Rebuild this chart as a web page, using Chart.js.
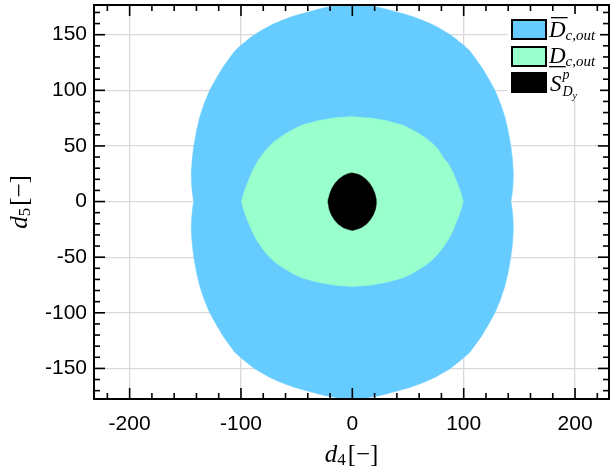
<!DOCTYPE html>
<html><head><meta charset="utf-8">
<script src="https://cdn.jsdelivr.net/npm/chart.js@4/dist/chart.umd.min.js"></script>
<style>html,body{margin:0;padding:0;background:#fff}</style>
</head><body>
<canvas id="c" width="611" height="470"></canvas>
<script>
// ---- data ----
const xTicks = [-200, -100, 0, 100, 200];
const yTicks = [-150, -100, -50, 0, 50, 100, 150];
const xMinor = [-220,-180,-160,-140,-120,-80,-60,-40,-20,20,40,60,80,120,140,160,180,220];
const yMinor = [-170,-160,-140,-130,-120,-110,-90,-80,-70,-60,-40,-30,-20,-10,10,20,30,40,60,70,80,90,110,120,130,140,160,170];

const seriesLabels = ['D c,out (upper)', 'D c,out (lower)', 'S p Dy'];

// outer region boundary (overline D_c,out)
const blueBoundary = [
  [0,179],[-12,176.7],[-24,174.5],[-34,172],[-45,169],[-55,166],[-63,163],[-70,160],[-76,157],[-88,150],
  [-97,143],[-105,136],[-111,128],[-116,121],[-122,111],[-128,100],[-133,88],[-137,76],[-140,63],
  [-142.3,50],[-143.8,38],[-144.6,25],[-144.2,14],[-143.4,6],[-142.5,0],
  [-143.4,-6],[-144.2,-14],[-144.6,-25],[-143.8,-38],[-142.3,-50],[-140,-63],[-137,-76],[-133,-88],
  [-128,-100],[-122,-111],[-116,-121],[-111,-128],[-105,-136],[-97,-143],[-88,-150],[-76,-157],
  [-70,-160],[-63,-163],[-55,-166],[-45,-169],[-34,-172],[-24,-174.5],[-12,-176.7],[0,-179],
  [12,-176.7],[24,-174.5],[34,-172],[45,-169],[55,-166],[63,-163],[70,-160],[76,-157],[88,-150],
  [97,-143],[105,-136],[111,-128],[116,-121],[122,-111],[128,-100],[133,-88],[137,-76],[140,-63],
  [142.3,-50],[143.8,-38],[144.6,-25],[144.2,-14],[143.4,-6],[142.5,0],
  [143.4,6],[144.2,14],[144.6,25],[143.8,38],[142.3,50],[140,63],[137,76],[133,88],[128,100],
  [122,111],[116,121],[111,128],[105,136],[97,143],[88,150],[76,157],[70,160],[63,163],
  [55,166],[45,169],[34,172],[24,174.5],[12,176.7]
];

// inner region boundary (underline D_c,out)
const greenBoundary = [
  [0,76.4],[-15,75.3],[-30,72.8],[-45,68.8],[-52,65.5],[-59,61.6],[-66,57],[-72,52.3],[-77,47],[-81,42],
  [-86,34.5],[-90,27],[-93,19.5],[-96,12],[-98,6],[-99.6,0],
  [-98,-6],[-96,-12],[-93,-19.5],[-90,-27],[-86,-34.5],[-81,-42],[-77,-47],[-72,-52.3],[-66,-57],[-59,-61.6],
  [-52,-65.5],[-45,-68.8],[-30,-72.8],[-15,-75.3],[0,-76.4],
  [15,-75.3],[30,-72.8],[45,-68.8],[52,-65.5],[59,-61.6],[66,-57],[72,-52.3],[77,-47],[81,-42],[86,-34.5],
  [90,-27],[93,-19.5],[96,-12],[98,-6],[99.6,0],
  [98,6],[96,12],[93,19.5],[90,27],[86,34.5],[82,39],[77,47],[72,52.3],[66,57],[59,61.6],[52,65.5],
  [45,68.8],[30,72.8],[15,75.3]
];

// S^p_{D_y}
const blackBoundary = [
  [0,26],[-4,25],[-8,23.2],[-12,20.3],[-15.5,16.5],[-18.3,12],[-20.3,7],[-21.5,2],[-21.6,-2],[-20.8,-7],
  [-18.8,-12],[-16,-16.5],[-12.5,-20.5],[-8,-23.5],[-4,-25],[0,-26],
  [4,-25],[8,-23.5],[12.5,-20.5],[16,-16.5],[18.8,-12],[20.8,-7],[21.6,-2],[21.5,2],[20.3,7],
  [18.3,12],[15.5,16.5],[12,20.3],[8,23.2],[4,25]
];

const colors = ['#66CCFF', '#99FFCC', '#000000'];

// ---- chart ----
const toPts = arr => arr.map(p => ({x: p[0], y: p[1]}));
const SERIF = '"Liberation Serif", "Times New Roman", serif';

function seq(ctx, x, y, parts, measureOnly) {
  let cx = x;
  for (const p of parts) {
    ctx.font = p.font;
    if (!measureOnly) ctx.fillText(p.t, cx + (p.dx || 0), y + (p.dy || 0));
    cx += ctx.measureText(p.t).width + (p.dx || 0) + (p.after || 0);
  }
  return cx - x;
}

const framePlugin = {
  id: 'frame',
  afterDatasetsDraw(chart) {
    const {ctx, chartArea: a, scales: {x, y}} = chart;
    ctx.save();
    ctx.strokeStyle = '#000';
    ctx.lineWidth = 1.6;
    const ln = (x1, y1, x2, y2) => { ctx.beginPath(); ctx.moveTo(x1, y1); ctx.lineTo(x2, y2); ctx.stroke(); };
    xTicks.forEach(v => { const p = x.getPixelForValue(v); ln(p, a.bottom, p, a.bottom - 11); ln(p, a.top, p, a.top + 11); });
    xMinor.forEach(v => { const p = x.getPixelForValue(v); ln(p, a.bottom, p, a.bottom - 6); ln(p, a.top, p, a.top + 6); });
    yTicks.forEach(v => { const p = y.getPixelForValue(v); ln(a.left, p, a.left + 11, p); ln(a.right, p, a.right - 11, p); });
    yMinor.forEach(v => { const p = y.getPixelForValue(v); ln(a.left, p, a.left + 6, p); ln(a.right, p, a.right - 6, p); });
    ctx.lineWidth = 2;
    ctx.strokeRect(a.left, a.top, a.right - a.left, a.bottom - a.top);
    ctx.restore();
  }
};

const legendPlugin = {
  id: 'mathLegend',
  afterDraw(chart) {
    const ctx = chart.ctx;
    ctx.save();
    ctx.fillStyle = '#fff';
    ctx.fillRect(508, 14, 92, 85);
    const rows = [20, 47, 73];
    rows.forEach((ry, i) => {
      ctx.fillStyle = colors[i];
      ctx.fillRect(512, ry, 34, 19);
      ctx.strokeStyle = '#000';
      ctx.lineWidth = 2;
      ctx.strokeRect(512, ry, 34, 19);
    });
    ctx.fillStyle = '#000';
    ctx.textBaseline = 'alphabetic';
    ctx.textAlign = 'left';
    // overline D_{c,out}
    ctx.font = 'italic 23px ' + SERIF;
    const wD = ctx.measureText('D').width;
    seq(ctx, 549, 37, [{t: 'D', font: 'italic 23px ' + SERIF}, {t: 'c,out', font: 'italic 15px ' + SERIF, dy: 3}]);
    ctx.fillRect(551, 17, wD, 1.3);
    // underline D_{c,out}
    seq(ctx, 549, 63, [{t: 'D', font: 'italic 23px ' + SERIF}, {t: 'c,out', font: 'italic 15px ' + SERIF, dy: 3}]);
    ctx.fillRect(549, 66, wD, 1.3);
    // S^p_{D_y}
    ctx.font = 'italic 23px ' + SERIF;
    ctx.fillText('S', 550, 90.5);
    const wS = ctx.measureText('S').width;
    ctx.font = 'italic 14px ' + SERIF;
    ctx.fillText('p', 550 + wS + 1, 78.5);
    ctx.fillText('D', 550 + wS + 1, 95.5);
    const wd2 = ctx.measureText('D').width;
    ctx.font = 'italic 10px ' + SERIF;
    ctx.fillText('y', 550 + wS + 1 + wd2, 98.5);
    ctx.restore();
  }
};

const titlePlugin = {
  id: 'mathTitles',
  afterDraw(chart) {
    const ctx = chart.ctx, a = chart.chartArea;
    ctx.save();
    ctx.fillStyle = '#000';
    ctx.textBaseline = 'alphabetic';
    ctx.textAlign = 'left';
    const parts = sub => [
      {t: 'd', font: 'italic 25px ' + SERIF},
      {t: sub, font: '17px ' + SERIF, dy: 3, after: 2},
      {t: '[', font: '25px ' + SERIF},
      {t: '\u2212', font: '25px ' + SERIF, after: 0},
      {t: ']', font: '25px ' + SERIF}
    ];
    // x title
    const px = parts('4');
    const wx = seq(ctx, 0, 0, px, true);
    seq(ctx, (a.left + a.right) / 2 - wx / 2, 462, px);
    // y title
    const py = parts('5');
    const wy = seq(ctx, 0, 0, py, true);
    ctx.translate(27, (a.top + a.bottom) / 2);
    ctx.rotate(-Math.PI / 2);
    seq(ctx, -wy / 2, 0, py);
    ctx.restore();
  }
};

new Chart(document.getElementById('c'), {
  type: 'scatter',
  data: {
    datasets: [
      {label: seriesLabels[0], data: toPts(blueBoundary), showLine: true, fill: 'shape', tension: 0.15,
       backgroundColor: colors[0], borderColor: colors[0], borderWidth: 0.5, pointRadius: 0, order: 3},
      {label: seriesLabels[1], data: toPts(greenBoundary), showLine: true, fill: 'shape', tension: 0,
       backgroundColor: colors[1], borderColor: colors[1], borderWidth: 0.5, pointRadius: 0, order: 2},
      {label: seriesLabels[2], data: toPts(blackBoundary), showLine: true, fill: 'shape', tension: 0,
       backgroundColor: colors[2], borderColor: colors[2], borderWidth: 0.5, pointRadius: 0, order: 1}
    ]
  },
  options: {
    responsive: false,
    animation: false,
    layout: {padding: {top: 5, right: 2, left: 0, bottom: 0}},
    plugins: {legend: {display: false}, tooltip: {enabled: false}},
    scales: {
      x: {
        type: 'linear', min: -232, max: 230.5,
        afterBuildTicks: s => { s.ticks = xTicks.map(v => ({value: v})); },
        afterFit: s => { s.height = 71; s.paddingLeft = 0; s.paddingRight = 0; },
        grid: {color: '#d9d9d9', lineWidth: 1.3, drawTicks: false},
        border: {display: false},
        ticks: {color: '#000', font: {family: '"Liberation Sans", Arial, sans-serif', size: 21}, padding: 13,
                maxRotation: 0, autoSkip: false, callback: v => String(v)}
      },
      y: {
        type: 'linear', min: -177.5, max: 176.7,
        afterBuildTicks: s => { s.ticks = yTicks.map(v => ({value: v})); },
        afterFit: s => { s.width = 94; s.paddingTop = 0; s.paddingBottom = 0; },
        grid: {color: '#d9d9d9', lineWidth: 1.3, drawTicks: false},
        border: {display: false},
        ticks: {color: '#000', font: {family: '"Liberation Sans", Arial, sans-serif', size: 21}, padding: 7,
                autoSkip: false, callback: v => String(v)}
      }
    }
  },
  plugins: [framePlugin, legendPlugin, titlePlugin]
});
</script>
</body></html>
